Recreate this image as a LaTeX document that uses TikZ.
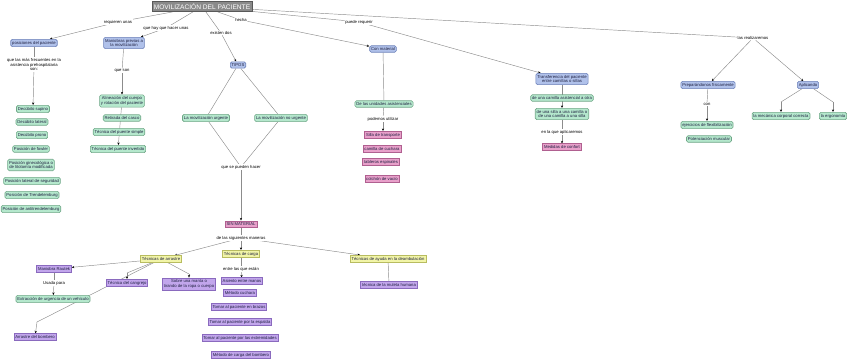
\documentclass[tikz,border=0pt]{standalone}
\usepackage{fontspec}
\setmainfont{Liberation Sans}
\usetikzlibrary{arrows.meta}
\pgfdeclarelayer{bg}
\pgfsetlayers{bg,main}
\definecolor{cblue}{HTML}{B0C1EA}
\definecolor{cblued}{HTML}{6A7FB8}
\definecolor{cgreen}{HTML}{B5E8CD}
\definecolor{cgreend}{HTML}{6FA687}
\definecolor{cpink}{HTML}{E8A0CA}
\definecolor{cpinkd}{HTML}{B06090}
\definecolor{cpurp}{HTML}{C2A6EC}
\definecolor{cpurpd}{HTML}{8A6ABE}
\definecolor{cyel}{HTML}{F2F5A8}
\definecolor{cyeld}{HTML}{B8BC60}
\definecolor{cline}{HTML}{8C8C8C}
\definecolor{ctitle}{HTML}{8A8A8A}
\definecolor{ctxt}{HTML}{1E2040}
\tikzset{
 base/.style={font=\fontsize{4.2}{4.9}\selectfont, text=ctxt, inner xsep=1.4pt, inner ysep=1.7pt, align=center, line width=0.6pt},
 bnode/.style={base, fill=cblue, draw=cblued, rounded corners=1.5pt},
 gnode/.style={base, fill=cgreen, draw=cgreend, rounded corners=1.5pt},
 pnode/.style={base, fill=cpink, draw=cpinkd},
 vnode/.style={base, fill=cpurp, draw=cpurpd},
 ynode/.style={base, fill=cyel, draw=cyeld},
 titlenode/.style={font=\fontsize{6.6}{7}\selectfont, text=white, fill=ctitle, draw=gray!70!black, inner xsep=2pt, inner ysep=2.3pt, line width=0.5pt},
 lbl/.style={font=\fontsize{4.2}{4.9}\selectfont, text=black, fill=white, inner sep=0.6pt, align=center},
 con/.style={draw=cline, line width=0.45pt},
 cto/.style={con, -{Stealth[length=2.6pt,width=2.2pt,black]}},
}
\begin{document}
\begin{tikzpicture}[x=1pt,y=-1pt]
\useasboundingbox (0,0) rectangle (848,359);
% title
\node[titlenode] (t) at (202,6.5) {MOVILIZACIÓN DEL PACIENTE};
% level 1
\node[bnode] (pos) at (34,43) {posiciones del paciente};
\node[bnode] (man) at (124,43) {Maniobras previas a\\la movilización};
\node[bnode] (tipos) at (238,65) {TIPOS};
\node[bnode] (conmat) at (383,49) {Con material};
\node[bnode] (transf) at (562,79) {Transferencia del paciente\\entre camillas o sillas};
\node[bnode] (prep) at (708,85) {Preparándonos físicamente};
\node[bnode] (apl) at (808,85) {Aplicando};
% labels level 1
\node[lbl] (l1) at (118,22) {requieren unas};
\node[lbl] (l2) at (166,28) {que hay que hacer unas};
\node[lbl] (l3) at (241,20) {hecha};
\node[lbl] (l4) at (221,33) {existen dos};
\node[lbl] (l5) at (359,22) {puede requerir};
\node[lbl] (l6) at (753,38) {las realizaremos};
% posiciones
\node[lbl] (l7) at (34,64.5) {que las más frecuentes en la\\asistencia prehospitalaria\\son:};
\node[gnode] (ds) at (33,109) {Decúbito supino};
\node[gnode] (dl) at (32,122) {Decúbito lateral};
\node[gnode] (dp) at (32,135) {Decúbito prono};
\node[gnode] (fow) at (31,149) {Posición de fowler};
\node[gnode] (gin) at (31,165) {Posición ginecológica o\\de litotomía modificada};
\node[gnode] (lat) at (32,181) {Posición lateral de seguridad};
\node[gnode] (tren) at (32,195) {Posición de Trendelemburg};
\node[gnode] (atren) at (31,209) {Posición de antitrendelemburg};
% maniobras
\node[lbl] (l8) at (122,71) {que son};
\node[gnode] (alin) at (122,101) {Alineación del cuerpo\\y rotación del paciente};
\node[gnode] (ret) at (122,118) {Retirada del casco};
\node[gnode] (psim) at (119,132) {Técnica del puente simple};
\node[gnode] (pinv) at (118,149) {Técnica del puente invertido};
% tipos
\node[gnode] (urg) at (206,118) {La movilización urgente};
\node[gnode] (nourg) at (281,118) {La movilización no urgente};
\node[lbl] (l9) at (241,167) {que se pueden hacer};
\node[pnode] (sinmat) at (241,224) {SIN MATERIAL};
\node[lbl] (l10) at (241,238) {de las siguientes maneras};
\node[ynode] (arr) at (161,259) {Técnicas de arrastre};
\node[ynode] (carga) at (241,254) {Técnicas de carga};
\node[ynode] (deamb) at (388,259) {Técnicas de ayuda en la deambulación};
% arrastre
\node[vnode] (rautek) at (54,269) {Maniobra Rautek};
\node[vnode] (cang) at (127,283) {Técnica del cangrejo};
\node[vnode] (manta) at (189,284) {Sobre una manta o\\tirando de la ropa o cuerpo};
\node[lbl] (l11) at (54,283) {Usada para};
\node[gnode] (extr) at (53,299) {Extracción de urgencia de un vehículo};
\node[vnode] (bomb) at (35,337) {Arrastre del bombero};
\coordinate (h1) at (127,273);
\coordinate (h2) at (189,274);
\coordinate (h3) at (37,322);
% carga
\node[lbl] (l12) at (241,269) {entre las que están};
\node[vnode] (asi) at (242,281) {Asiento entre manos};
\node[vnode] (cuch) at (240,293) {Método cuchara};
\node[vnode] (braz) at (239,307) {Tomar al paciente en brazos};
\node[vnode] (esp) at (240,322) {Tomar al paciente por la espalda};
\node[vnode] (ext) at (240,338) {Tomar al paciente por las extremidades};
\node[vnode] (bombc) at (241,355) {Método de carga del bombero};
% deambulacion
\node[vnode] (mul) at (389,285) {técnica de la muleta humana};
% con material
\node[gnode] (unid) at (384,104) {De las unidades asistenciales};
\node[lbl] (l13) at (383,119) {podemos utilizar};
\node[pnode] (silla) at (383,135) {Silla de transporte};
\node[pnode] (ccuch) at (382,149) {camilla de cuchara};
\node[pnode] (tabl) at (381,162) {tableros espinales};
\node[pnode] (colch) at (382,179) {colchón de vacío};
% transferencia
\node[gnode] (otra) at (562,98) {de una camilla asistencial a otra};
\node[gnode] (silla2) at (562,114) {de una silla a una camilla o\\de una camilla a una silla};
\node[lbl] (l14) at (562,132) {en la que aplicaremos};
\node[pnode] (conf) at (562,147) {Medidas de confort};
% preparandonos
\node[lbl] (l15) at (707,104) {con};
\node[gnode] (flex) at (707,125) {ejercicios de flexibilización};
\node[gnode] (pot) at (709,139) {Potenciación muscular};
% aplicando
\coordinate (h4) at (781,102);
\coordinate (h5) at (833,102);
\node[gnode] (mec) at (781,116) {la mecánica corporal correcta};
\node[gnode] (ergo) at (833,116) {la ergonomía};
\begin{pgfonlayer}{bg}
\draw[con] (t) -- (l1); \draw[cto] (l1) -- (pos);
\draw[con] (t) -- (l2); \draw[cto] (l2) -- (man);
\draw[con] (t) -- (l3); \draw[cto] (l3) -- (conmat);
\draw[con] (t) -- (l4); \draw[cto] (l4) -- (tipos);
\draw[con] (t) -- (l5); \draw[cto] (l5) -- (transf);
\draw[con] (t) -- (l6); \draw[cto] (l6) -- (prep); \draw[cto] (l6) -- (apl);
\draw[con] (pos) -- (l7); \draw[cto] (l7) -- (ds);
\draw[con] (man) -- (l8); \draw[cto] (l8) -- (alin);
\draw[cto] (alin) -- (pinv);
\draw[con] (tipos) -- (urg); \draw[con] (tipos) -- (nourg);
\draw[con] (urg) -- (l9); \draw[con] (nourg) -- (l9);
\draw[cto] (l9) -- (sinmat);
\draw[con] (sinmat) -- (l10);
\draw[cto] (l10) -- (arr); \draw[cto] (l10) -- (carga); \draw[cto] (l10) -- (deamb);
\draw[cto] (arr) -- (rautek);
\draw[con] (arr) -- (h1); \draw[cto] (h1) -- (cang);
\draw[con] (arr) -- (h2); \draw[cto] (h2) -- (manta);
\draw[con] (arr) -- (h3); \draw[cto] (h3) -- (bomb);
\draw[con] (rautek) -- (l11); \draw[cto] (l11) -- (extr);
\draw[con] (carga) -- (l12); \draw[cto] (l12) -- (asi);
\draw[con] (deamb) -- (mul);
\draw[con] (conmat) -- (unid);
\draw[con] (unid) -- (l13); \draw[cto] (l13) -- (silla);
\draw[cto] (transf) -- (silla2);
\draw[con] (silla2) -- (l14); \draw[cto] (l14) -- (conf);
\draw[con] (prep) -- (l15); \draw[cto] (l15) -- (flex);
\draw[con] (apl) -- (h4); \draw[cto] (h4) -- (mec);
\draw[con] (apl) -- (h5); \draw[cto] (h5) -- (ergo);
\end{pgfonlayer}
\end{tikzpicture}
\end{document}
